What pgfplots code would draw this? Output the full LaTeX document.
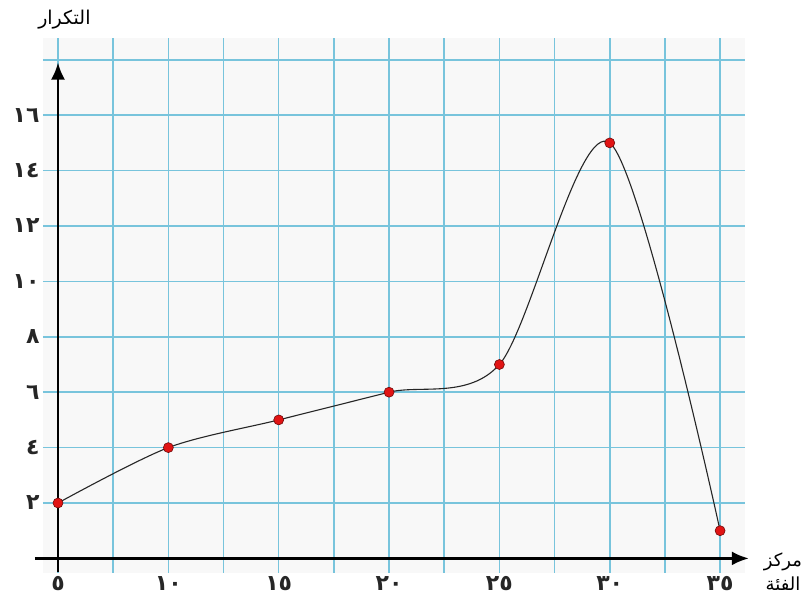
\documentclass[border=0pt]{standalone}
\usepackage{pgfplots}
\pgfplotsset{compat=1.18}
\usetikzlibrary{arrows.meta}
\usepackage{fontspec}
\newfontfamily\arabicfont[Script=Arabic]{DejaVu Sans}
\TeXXeTstate=1
\definecolor{gridblue}{RGB}{120,196,220}
\definecolor{bggray}{RGB}{248,248,248}
\definecolor{ptred}{RGB}{225,20,20}
\definecolor{ptedge}{RGB}{110,10,10}
\begin{document}
\begin{tikzpicture}
\begin{axis}[
 x=22.07pt, y=27.7pt,
 xmin=4.32, xmax=36.13, ymin=-0.527, ymax=18.79,
 axis line style={draw=none},
 major tick length=0pt, minor tick length=0pt,
 xtick={5,10,...,35},
 minor xtick={7.5,12.5,...,32.5},
 ytick={0,2,...,18},
 xticklabels={٥,١٠,١٥,٢٠,٢٥,٣٠,٣٥},
 yticklabels={,٢,٤,٦,٨,١٠,١٢,١٤,١٦,},
 grid=both,
 major grid style={line width=1.5pt, gridblue},
 minor grid style={line width=1.5pt, gridblue},
 axis background/.style={fill=bggray},
 clip=false,
 ticklabel style={font=\arabicfont\bfseries\fontsize{22}{24}\selectfont, text=black!85},
]
\draw[line width=2.4pt, -{Latex[length=17pt,width=14pt]}] (axis cs:3.95,0) -- (axis cs:36.3,0);
\draw[line width=2.4pt, -{Latex[length=17pt,width=14pt]}] (axis cs:5,-0.5) -- (axis cs:5,17.9);
\addplot[black!85, line width=1.1pt, smooth, tension=0.5] coordinates {(5,2)(10,4)(15,5)(20,6)(25,7)(30,15)(35,1)};
\addplot[only marks, mark=*, mark size=5pt, mark options={fill=ptred, draw=ptedge, line width=0.6pt}] coordinates {(5,2)(10,4)(15,5)(20,6)(25,7)(30,15)(35,1)};
\node[font=\arabicfont\fontsize{19}{22}\selectfont] at (axis cs:5.29,19.44) {\beginR التكرار\endR};
\node[font=\arabicfont\fontsize{18}{24}\selectfont, align=center] at (axis cs:37.85,-0.49) {\beginR مركز\endR\\\beginR الفئة\endR};
\coordinate (bbsw) at (axis cs:2.372,-1.646);
\coordinate (bbne) at (axis cs:38.756,20.159);
\end{axis}
\pgfresetboundingbox
\path (bbsw) rectangle (bbne);
\end{tikzpicture}
\end{document}
